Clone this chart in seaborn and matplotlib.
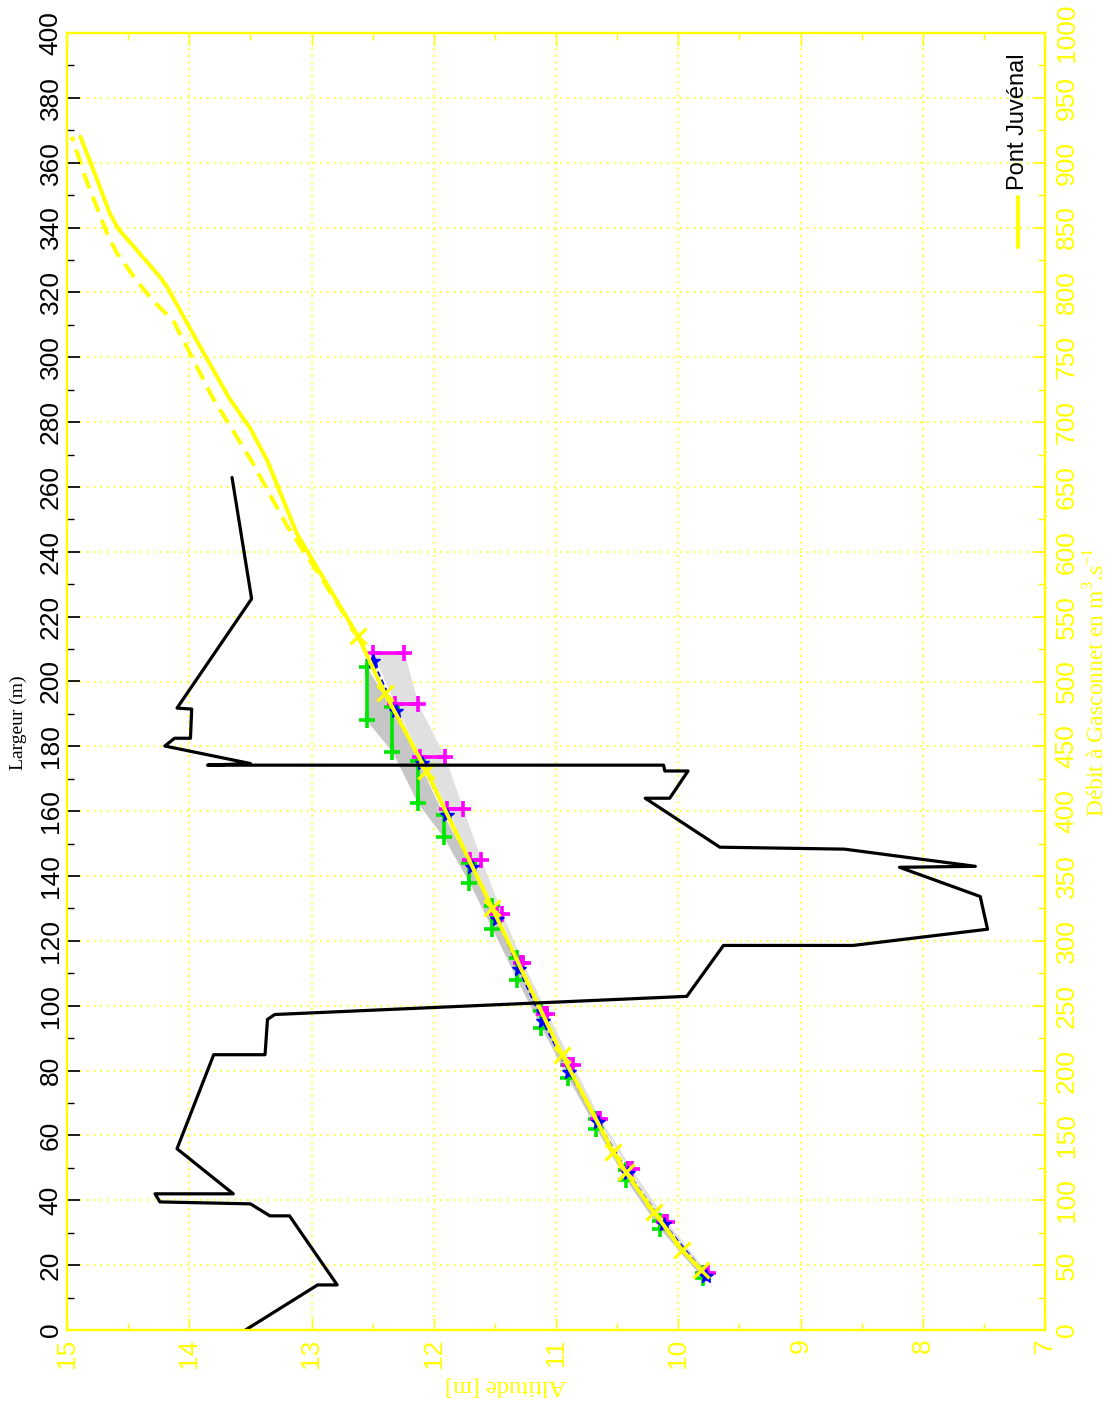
import numpy as np
import pandas as pd
import seaborn as sns
import matplotlib.pyplot as plt
from matplotlib.ticker import MultipleLocator

# profil en travers (altitude m, largeur m)
profil_alt = [13.54, 12.95, 12.79, 13.18, 13.34, 13.50, 14.24, 14.28, 13.64, 14.10, 13.80, 13.38, 13.36,
              13.30, 9.93, 9.63, 8.57, 7.47, 7.53, 8.19, 7.57, 8.64, 9.66, 10.27, 10.07, 9.92, 10.11,
              10.12, 13.85, 13.50, 14.20, 14.12, 13.99, 13.98, 14.10, 13.49, 13.65]
profil_larg = [0, 13.9, 13.9, 35.2, 35.2, 38.9, 39.5, 42.0, 42.0, 55.9, 84.9, 84.9, 95.8,
               97.3, 102.9, 118.6, 118.6, 123.6, 133.7, 142.7, 143.0, 148.3, 148.9, 164.0, 164.0, 172.4, 172.4,
               174.2, 174.2, 174.7, 180.1, 182.5, 182.5, 191.5, 191.8, 225.5, 262.9]

# courbe de tarage Pont Juvénal (altitude m, débit m3/s)
courbe_alt = [9.81, 9.97, 10.20, 10.43, 10.53, 10.95, 11.52, 12.06, 12.40, 12.62,
              13.12, 13.36, 13.50, 13.67, 13.91, 14.18, 14.24, 14.58, 14.65, 14.75, 14.89]
courbe_q = [46, 62, 91, 122, 137, 212, 325, 431, 491, 535,
            614, 670, 695, 718, 758, 804, 812, 849, 861, 886, 920]
n_croix = 10

# courbe en tirets
tirets_alt = [12.62, 12.92, 13.20, 13.49, 13.81, 14.02, 14.13, 14.30, 14.43, 14.59, 14.67, 14.84, 14.96]
tirets_q = [535, 580, 620, 670, 719, 758, 778, 794, 809, 830, 845, 886, 920]

# points bleus
bleu_alt = [9.77, 10.12, 10.41, 10.66, 10.89, 11.11, 11.30, 11.48, 11.69, 11.89, 12.10, 12.31, 12.50]
bleu_q = [42, 82, 121, 160, 199, 238, 278, 317, 357, 397, 437, 477, 516]

# barres vertes (altitude, débit haut, débit bas)
vert_alt = [9.80, 10.15, 10.43, 10.67, 10.90, 11.12, 11.32, 11.52, 11.71, 11.92, 12.13, 12.34, 12.55]
vert_haut = [44, 84, 123, 163, 204, 246, 287, 327, 360, 397, 439, 480, 511]
vert_bas = [40, 78, 116, 155, 194, 233, 270, 309, 345, 380, 406, 446, 470]

# barres magenta (débit, altitude gauche, altitude droite)
mag_q = [44, 83, 124, 163, 204, 244, 283, 321, 362, 402, 442, 483, 522]
mag_alt_g = [9.78, 10.12, 10.41, 10.66, 10.89, 11.10, 11.29, 11.48, 11.70, 11.89, 12.11, 12.32, 12.50]
mag_alt_d = [9.76, 10.09, 10.38, 10.64, 10.86, 11.07, 11.27, 11.44, 11.61, 11.76, 11.91, 12.13, 12.24]

sns.set_theme(style="white")
plt.rcParams['font.family'] = ['Liberation Sans', 'DejaVu Sans']
plt.rcParams['mathtext.fontset'] = 'custom'
plt.rcParams['mathtext.rm'] = 'Liberation Serif'

Y = '#ffff00'
tick_font = ['Liberation Sans Narrow', 'Liberation Sans', 'DejaVu Sans']
fig = plt.figure(figsize=(11.18, 14.05), dpi=100)
ax = fig.add_axes([67/1118, 75/1405, 978/1118, 1297/1405])
ax2 = ax.twinx()

# grey bands
ax.fill_betweenx(mag_q, mag_alt_g, mag_alt_d, color='#e0e0e0', lw=0)
ax.fill_between(vert_alt, vert_bas, vert_haut, color='#c6c6c6', lw=0)

# error bars
for a, h, b in zip(vert_alt, vert_haut, vert_bas):
    ax.plot([a, a], [b, h], color='#00e600', lw=2.6, marker='+', ms=11, mew=2.6)
for q, g, d in zip(mag_q, mag_alt_g, mag_alt_d):
    ax.plot([g, d], [q, q], color='#ff00ff', lw=2.6, marker='+', ms=11, mew=2.6)

df_bleu = pd.DataFrame({'alt': bleu_alt, 'q': bleu_q})
sns.lineplot(data=df_bleu, x='alt', y='q', sort=False, estimator=None, ax=ax,
             color='#0000ff', lw=1.6, linestyle=(0, (2.5, 1.5)))
ax.plot(bleu_alt, bleu_q, ls='none', marker='*', ms=10, color='#0000ff')

df_t = pd.DataFrame({'alt': tirets_alt, 'q': tirets_q})
sns.lineplot(data=df_t, x='alt', y='q', sort=False, estimator=None, ax=ax,
             color=Y, lw=2.9, linestyle=(0, (4, 2.2)))
df_c = pd.DataFrame({'alt': courbe_alt, 'q': courbe_q})
sns.lineplot(data=df_c, x='alt', y='q', sort=False, estimator=None, ax=ax, color=Y, lw=2.9)
ax.plot(courbe_alt[:n_croix], courbe_q[:n_croix], ls='none', marker='x', ms=11, mew=2.4, color=Y)

# profile on largeur axis (drawn on top)
df_p = pd.DataFrame({'alt': profil_alt, 'larg': profil_larg})
sns.lineplot(data=df_p, x='alt', y='larg', sort=False, estimator=None, ax=ax2, color='black', lw=2.3)

ax.set_xlim(15, 7)
ax.set_ylim(0, 1000)
ax2.set_ylim(0, 400)
ax.set_xlabel('')
ax.set_ylabel('')
ax2.set_ylabel('')

ax.yaxis.tick_right()
ax2.yaxis.tick_left()

ax.xaxis.set_major_locator(MultipleLocator(1))
ax.xaxis.set_minor_locator(MultipleLocator(0.5))
ax.yaxis.set_major_locator(MultipleLocator(50))
ax.yaxis.set_minor_locator(MultipleLocator(25))
ax2.yaxis.set_major_locator(MultipleLocator(20))
ax2.yaxis.set_minor_locator(MultipleLocator(10))

ax.grid(True, which='major', color=Y, linestyle=(0, (1, 3)), lw=1.2)

ax.tick_params(axis='x', which='both', direction='in', colors=Y, top=True, bottom=True, pad=6)
ax.tick_params(axis='x', which='major', length=9, width=1)
ax.tick_params(axis='x', which='minor', length=5, width=1)
ax.tick_params(axis='y', which='both', direction='in', colors=Y, right=True, left=False,
               labelright=True, labelleft=False, pad=7)
ax.tick_params(axis='y', which='major', length=9)
ax.tick_params(axis='y', which='minor', length=5)
ax2.tick_params(axis='y', which='both', direction='in', colors='black', left=True, right=False,
                labelleft=True, labelright=False, pad=3)
ax2.tick_params(axis='y', which='major', length=9)
ax2.tick_params(axis='y', which='minor', length=5)
for t in ax.get_xticklabels() + ax.get_yticklabels() + ax2.get_yticklabels():
    t.set_rotation(90)
    t.set_family(tick_font)
    t.set_fontsize(19)
for t in ax.get_yticklabels() + ax2.get_yticklabels():
    t.set_va('center')

for a in (ax, ax2):
    for s in a.spines.values():
        s.set_color(Y)
        s.set_linewidth(1.6)
        s.set_visible(True)

# axis titles
serif = ['Liberation Serif', 'DejaVu Serif']
ax.text(-0.050, 0.468, 'Largeur (m)', transform=ax.transAxes, rotation=90, ha='center', va='center',
        fontsize=14, family=serif, color='black')
ax.text(0.448, -0.043, 'Altitude [m]', transform=ax.transAxes, rotation=180, ha='center', va='center',
        fontsize=17.5, family=serif, color=Y)
ax.text(1.053, 0.50, 'Débit à Gasconnet en m$^{3}$.s$^{-1}$', transform=ax.transAxes, rotation=90,
        ha='center', va='center', fontsize=17, family=serif, color=Y)

# legend
ax.plot([0.9724, 0.9724], [0.8347, 0.8734], transform=ax.transAxes, color=Y, lw=3, clip_on=False)
ax.text(0.9724, 0.8790, 'Pont Juvénal', transform=ax.transAxes, rotation=90, ha='center', va='bottom',
        fontsize=17, color='black')

fig.savefig('out.png', dpi=100)
